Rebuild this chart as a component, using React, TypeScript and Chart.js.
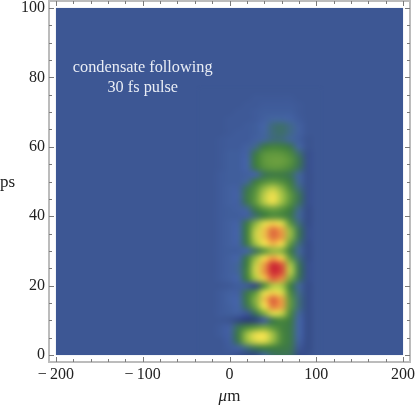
import React, { useEffect, useRef } from "react";
import { Chart, registerables } from "chart.js";

Chart.register(...registerables);

const xCells = [-30, -20, -10, 0, 10, 20, 30, 40, 50, 60, 70, 80, 90, 100];
const yCells = [0, 2, 4, 6, 8, 10, 12, 14, 16, 18, 20, 22, 24, 26, 28, 30, 32, 34, 36, 38, 40, 42, 44, 46, 48, 50, 52, 54, 56, 58, 60, 62, 64, 66, 68, 70, 72, 74, 76];
const intensity = [
  [0, 0, 0, 0, -2, -4, -4, 8, 15, 18, 16, -3, -2, 0],
  [0, 0, 0, 2, 4, 12, 20, 26, 26, 24, 20, 0, -3, 0],
  [0, 0, 0, 3, 20, 46, 58, 60, 46, 30, 22, 4, -3, 0],
  [0, 0, 2, 4, 24, 48, 62, 64, 48, 30, 22, 6, -3, 0],
  [0, 0, 2, 4, 18, 30, 36, 40, 34, 28, 22, 6, -3, 0],
  [0, 0, 0, -1, -4, -7, -6, 2, 22, 30, 24, 6, -3, 0],
  [0, 0, 2, 3, 4, 0, 18, 42, 60, 56, 30, 8, -3, 0],
  [0, 0, 2, 4, 6, 18, 40, 64, 84, 78, 36, 12, -3, 0],
  [0, 0, 2, 5, 6, 24, 44, 70, 88, 78, 36, 12, -3, 0],
  [0, 0, 2, 4, 4, 20, 36, 60, 68, 60, 30, 10, -3, 0],
  [0, 0, 0, 1, 3, 2, -5, 30, 52, 50, 26, 8, -3, 0],
  [0, 0, 2, 4, 6, 26, 50, 70, 88, 82, 42, 16, -2, 0],
  [0, 0, 2, 4, 8, 28, 58, 80, 100, 92, 54, 20, -2, 0],
  [0, 0, 2, 4, 8, 26, 56, 78, 100, 90, 50, 18, -2, 0],
  [0, 0, 2, 4, 6, 22, 46, 66, 78, 68, 36, 12, -3, 0],
  [0, 0, 2, 3, 3, 6, 16, 34, 46, 44, 24, 8, -3, 0],
  [0, 0, 2, 4, 5, 22, 48, 64, 74, 66, 36, 12, -3, 0],
  [0, 0, 2, 4, 6, 26, 56, 70, 86, 80, 46, 18, -2, 0],
  [0, 0, 2, 4, 6, 26, 54, 70, 86, 78, 46, 18, -2, 0],
  [0, 0, 2, 4, 5, 22, 44, 60, 68, 60, 34, 12, -3, 0],
  [0, 0, 2, 3, 3, 4, 14, 26, 32, 30, 22, 8, -3, 0],
  [0, 0, 2, 3, 4, 8, 24, 34, 38, 34, 26, 10, -3, 0],
  [0, 0, 2, 4, 4, 20, 36, 52, 62, 48, 34, 16, -2, 0],
  [0, 0, 2, 4, 5, 22, 36, 54, 64, 50, 36, 18, -2, 0],
  [0, 0, 2, 4, 4, 18, 32, 46, 54, 44, 30, 12, -2, 0],
  [0, 0, 2, 3, 3, 8, 24, 32, 36, 32, 24, 8, -2, 0],
  [0, 0, 2, 3, 3, 4, 6, 18, 24, 24, 18, 8, -2, 0],
  [0, 0, 1, 3, 3, 6, 22, 33, 36, 35, 30, 16, -2, 0],
  [0, 0, 1, 3, 3, 6, 26, 36, 38, 38, 34, 20, -2, 0],
  [0, 0, 1, 3, 3, 5, 22, 34, 36, 35, 30, 14, -2, 0],
  [0, 0, 1, 2, 2, 4, 10, 24, 28, 27, 20, 7, -1, 0],
  [0, 0, 1, 2, 2, 2, 4, 8, 12, 12, 8, 3, -1, 0],
  [0, 0, 0, 1, 2, 2, 3, 7, 12, 14, 10, 4, 0, 0],
  [0, 0, 0, 1, 1, 2, 3, 6, 12, 14, 10, 4, 0, 0],
  [0, 0, 0, 1, 1, 1, 2, 4, 7, 7, 5, 2, 0, 0],
  [0, 0, 0, 0, 1, 1, 2, 3, 3, 3, 3, 1, 0, 0],
  [0, 0, 0, 0, 0, 1, 1, 2, 2, 2, 2, 1, 0, 0],
  [0, 0, 0, 0, 0, 0, 1, 1, 1, 1, 1, 0, 0, 0],
  [0, 0, 0, 0, 0, 0, 0, 0, 0, 0, 0, 0, 0, 0],
];
const xTickValues = [-200, -100, 0, 100, 200];
const yTickValues = [0, 20, 40, 60, 80, 100];
const xMinorTicks = [-200, -180, -160, -140, -120, -100, -80, -60, -40, -20, 0, 20, 40, 60, 80, 100, 120, 140, 160, 180, 200];
const yMinorTicks = [0, 5, 10, 15, 20, 25, 30, 35, 40, 45, 50, 55, 60, 65, 70, 75, 80, 85, 90, 95, 100];
const noteLines = ["condensate following", "30 fs pulse"];

const SERIF = '"Liberation Serif", serif';
const colorStops: [number, number[]][] = [
  [-12, [32, 48, 100]],
  [0, [61, 87, 148]],
  [6, [68, 100, 165]],
  [16, [60, 112, 92]],
  [26, [62, 125, 62]],
  [36, [96, 152, 62]],
  [50, [170, 198, 70]],
  [64, [240, 224, 78]],
  [80, [232, 150, 66]],
  [92, [212, 70, 58]],
  [100, [204, 42, 52]],
];

function colorFor(v: number): number[] {
  if (v <= colorStops[0][0]) return colorStops[0][1];
  for (let i = 1; i < colorStops.length; i++) {
    const [b, cb] = colorStops[i];
    const [a, ca] = colorStops[i - 1];
    if (v <= b) {
      const t = (v - a) / (b - a);
      return ca.map((c, k) => c + (cb[k] - c) * t);
    }
  }
  return colorStops[colorStops.length - 1][1];
}

const heatPlugin = {
  id: "heat",
  beforeDatasetsDraw(chart: any) {
    const { ctx, scales } = chart;
    const sx = scales.x;
    const sy = scales.y;
    const left = sx.getPixelForValue(-200);
    const right = sx.getPixelForValue(200);
    const top = sy.getPixelForValue(100);
    const bottom = sy.getPixelForValue(0);
    ctx.save();
    ctx.fillStyle = "rgb(61,87,148)";
    ctx.fillRect(left, top, right - left, bottom - top);
    ctx.beginPath();
    ctx.rect(left, top, right - left, bottom - top);
    ctx.clip();
    const cols = xCells.length;
    const rows = yCells.length;
    const off = document.createElement("canvas");
    off.width = cols;
    off.height = rows;
    const oc = off.getContext("2d")!;
    const img = oc.createImageData(cols, rows);
    for (const p of chart.data.datasets[0].data) {
      const col = xCells.indexOf(p.x);
      const row = rows - 1 - yCells.indexOf(p.y);
      const c = colorFor(p.v);
      const idx = (row * cols + col) * 4;
      img.data[idx] = c[0];
      img.data[idx + 1] = c[1];
      img.data[idx + 2] = c[2];
      img.data[idx + 3] = 255;
    }
    oc.putImageData(img, 0, 0);
    const hx = (xCells[1] - xCells[0]) / 2;
    const hy = (yCells[1] - yCells[0]) / 2;
    const dx0 = sx.getPixelForValue(xCells[0] - hx);
    const dx1 = sx.getPixelForValue(xCells[cols - 1] + hx);
    const dy0 = sy.getPixelForValue(yCells[rows - 1] + hy);
    const dy1 = sy.getPixelForValue(yCells[0] - hy);
    ctx.imageSmoothingEnabled = true;
    ctx.imageSmoothingQuality = "high";
    ctx.filter = "blur(1.5px)";
    ctx.drawImage(off, dx0, dy0, dx1 - dx0, dy1 - dy0);
    ctx.filter = "none";
    ctx.restore();
  },
  afterDraw(chart: any) {
    const { ctx, scales, chartArea: a } = chart;
    const sx = scales.x;
    const sy = scales.y;
    ctx.save();
    ctx.strokeStyle = "#bcbcbc";
    ctx.lineWidth = 2;
    ctx.strokeRect(a.left, a.top, a.right - a.left, a.bottom - a.top);
    ctx.strokeStyle = "#7a7a7a";
    ctx.lineWidth = 1;
    ctx.beginPath();
    xMinorTicks.forEach((v) => {
      const p = Math.round(sx.getPixelForValue(v)) + 0.5;
      const len = xTickValues.includes(v) ? 5 : 3;
      ctx.moveTo(p, a.bottom);
      ctx.lineTo(p, a.bottom - len);
      ctx.moveTo(p, a.top);
      ctx.lineTo(p, a.top + len);
    });
    yMinorTicks.forEach((v) => {
      const p = Math.round(sy.getPixelForValue(v)) + 0.5;
      const len = yTickValues.includes(v) ? 5 : 3;
      ctx.moveTo(a.left, p);
      ctx.lineTo(a.left + len, p);
      ctx.moveTo(a.right, p);
      ctx.lineTo(a.right - len, p);
    });
    ctx.stroke();

    ctx.fillStyle = "#e9edf5";
    ctx.font = `16.3px ${SERIF}`;
    ctx.textAlign = "center";
    ctx.textBaseline = "alphabetic";
    ctx.fillText(noteLines[0], sx.getPixelForValue(-100), sy.getPixelForValue(81.5));
    ctx.fillText(noteLines[1], sx.getPixelForValue(-100), sy.getPixelForValue(75.7));

    ctx.fillStyle = "#222";
    ctx.font = `17px ${SERIF}`;
    ctx.textAlign = "left";
    ctx.fillText("ps", 0, 187);

    const base = 401;
    ctx.font = `italic 17px ${SERIF}`;
    const w1 = ctx.measureText("\u03bc").width;
    ctx.font = `17px ${SERIF}`;
    const w2 = ctx.measureText("m").width;
    const startX = sx.getPixelForValue(0) - (w1 + w2) / 2;
    ctx.font = `italic 17px ${SERIF}`;
    ctx.fillText("\u03bc", startX, base);
    ctx.font = `17px ${SERIF}`;
    ctx.fillText("m", startX + w1, base);
    ctx.restore();
  },
};

export default function App() {
  const ref = useRef<HTMLCanvasElement>(null);
  useEffect(() => {
    const points: { x: number; y: number; v: number }[] = [];
    yCells.forEach((y, r) => xCells.forEach((x, c) => points.push({ x, y, v: intensity[r][c] })));
    const chart = new Chart(ref.current!, {
      type: "scatter",
      data: { datasets: [{ label: "condensate", data: points, pointRadius: 0, showLine: false }] },
      plugins: [heatPlugin],
      options: {
        animation: false,
        responsive: false,
        layout: { autoPadding: false, padding: { top: 1, right: 5, left: 0, bottom: 0 } },
        plugins: { legend: { display: false }, tooltip: { enabled: false } },
        scales: {
          x: {
            type: "linear",
            min: -208,
            max: 208,
            grid: { display: false, drawTicks: false },
            border: { display: false },
            afterBuildTicks: (s: any) => {
              s.ticks = xTickValues.map((value) => ({ value }));
            },
            afterFit: (s: any) => {
              s.height = 43;
              s.paddingLeft = 0;
              s.paddingRight = 0;
            },
            ticks: {
              autoSkip: false,
              maxRotation: 0,
              padding: 3,
              color: "#222",
              font: { family: SERIF, size: 16 },
              callback: (v: any) => (v < 0 ? `\u2212\u2009${-v}` : `${v}`),
            },
          },
          y: {
            type: "linear",
            min: -2,
            max: 102,
            grid: { display: false, drawTicks: false },
            border: { display: false },
            afterBuildTicks: (s: any) => {
              s.ticks = yTickValues.map((value) => ({ value }));
            },
            afterFit: (s: any) => {
              s.width = 49;
              s.paddingTop = 0;
              s.paddingBottom = 0;
            },
            ticks: {
              autoSkip: false,
              padding: 4,
              color: "#222",
              font: { family: SERIF, size: 16 },
            },
          },
        },
      },
    });
    return () => chart.destroy();
  }, []);
  return (
    <div style={{ position: "absolute", left: 0, top: 0, width: 415, height: 405 }}>
      <canvas ref={ref} width={415} height={405} style={{ display: "block" }} />
    </div>
  );
}
